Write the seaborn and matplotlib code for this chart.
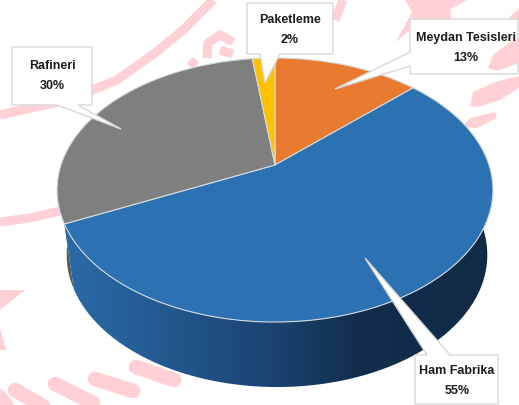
import numpy as np
import seaborn as sns
import matplotlib
matplotlib.use('Agg')
import matplotlib.pyplot as plt
from matplotlib.colors import LinearSegmentedColormap
from matplotlib.patches import Polygon
from matplotlib.transforms import Transform

categories = ['Meydan Tesisleri', 'Ham Fabrika', 'Rafineri', 'Paketleme']
shares = [13, 55, 30, 2]
top_colors = ['#e97b30', '#2c72b2', '#7f7f7f', '#ffc000']

# pie placement in image pixels, the far side is squeezed like the 3d original
CX, CY = 275, 165
A, B, K = 214, 127.3, 0.1894
DEPTH = 65
BOTTOM_SCALE = 0.965
BOTTOM_SHIFT = 2

# callouts as outlines in pixels, pointer included
callouts = {
    'Meydan Tesisleri': [(410, 19), (518, 19), (518, 74), (410, 74), (410, 66), (335, 89), (410, 52)],
    'Ham Fabrika': [(415, 355), (427, 355), (365, 258), (450, 355), (498, 355), (498, 404), (415, 404)],
    'Rafineri': [(12, 47), (92, 47), (92, 105), (78, 105), (121, 129), (57, 105), (12, 105)],
    'Paketleme': [(247, 3), (333, 3), (333, 54), (280, 54), (265, 83), (260, 54), (247, 54)],
}
text_pos = {
    'Meydan Tesisleri': (466, 48),
    'Ham Fabrika': (457, 381),
    'Rafineri': (52, 76),
    'Paketleme': (290, 30),
}

# faint watermark behind the chart
wm_thin = [
    [(0, 115), (67, 100), (117, 80), (155, 53), (183, 30), (213, 0)],
    [(0, 222), (30, 218), (60, 211)],
    [(335, 20), (343, 0)],
    [(207, 58), (208, 43), (220, 35), (233, 42)],
    [(220, 50), (233, 54)],
    [(190, 60), (196, 66)],
]
wm_dashes = [
    [(136, 367), (174, 380)],
    [(95, 379), (133, 391)],
    [(55, 384), (93, 403)],
    [(15, 390), (50, 410)],
    [(-2, 395), (10, 410)],
]
wm_shapes = [
    [(0, 290), (25, 290), (0, 310)],
    [(0, 328), (6, 350), (0, 350)],
    [(405, 0), (467, 0), (450, 9), (452, 22), (412, 22), (410, 30), (396, 42), (412, 12)],
    [(470, 106), (473, 92), (495, 82), (519, 76), (519, 88), (500, 100), (478, 107)],
    [(462, 127), (470, 118), (495, 112), (497, 118), (477, 128)],
    [(508, 19), (519, 8), (519, 19)],
]
wm_over_box = [(488, 68), (493, 55), (510, 42), (519, 39), (519, 63), (497, 71)]


class TiltTransform(Transform):
    input_dims = 2
    output_dims = 2

    def transform_non_affine(self, values):
        values = np.asarray(values, dtype=float)
        den = 1 + K * values[:, 1]
        return np.column_stack((CX + A * values[:, 0] / den, CY - B * values[:, 1] / den))


def rim(start, end, scale=1.0, shift=0, drop=0):
    # start and end are clockwise from 12 o'clock, in percent
    theta = np.radians(np.linspace(start, end, 120) * 3.6)
    u, v = np.sin(theta), np.cos(theta)
    den = 1 + K * v
    return np.column_stack((CX + shift + scale * A * u / den, CY - B * v / den + drop))


def side_shape(start, end):
    top = rim(start, end)
    bottom = rim(start, end, BOTTOM_SCALE, BOTTOM_SHIFT, DEPTH)
    return np.vstack((top, bottom[::-1]))


sns.set_theme(style='white')
plt.rcParams['font.family'] = ['Liberation Sans', 'DejaVu Sans']

fig = plt.figure(figsize=(5.19, 4.05), dpi=100)
ax = fig.add_axes([0, 0, 1, 1])

wedges, _ = ax.pie(shares, colors=sns.color_palette(top_colors), startangle=90, counterclock=False,
                   wedgeprops={'linewidth': 0.8, 'edgecolor': '#d4dbe2', 'zorder': 5})
tilt = TiltTransform()
for wedge in wedges:
    wedge.set_transform(tilt + ax.transData)

pink = '#ffd0d6'
for line in wm_thin:
    pts = np.array(line)
    ax.plot(pts[:, 0], pts[:, 1], color=pink, lw=6.5, solid_capstyle='butt', zorder=1)
for line in wm_dashes:
    pts = np.array(line)
    ax.plot(pts[:, 0], pts[:, 1], color=pink, lw=10.5, solid_capstyle='round', zorder=1)
for shape in wm_shapes:
    ax.add_patch(Polygon(shape, closed=True, facecolor=pink, edgecolor='none', zorder=1))

# outer wall, only the ham fabrika and rafineri parts can be seen
ham_start = shares[0]
ham_end = ham_start + shares[1]
raf_end = ham_end + shares[2]

ax.add_patch(Polygon(side_shape(ham_end, raf_end), closed=True, facecolor='#5a5a5a', edgecolor='none', zorder=2))

wall_cmap = LinearSegmentedColormap.from_list('wall', [
    (0.0, '#2a6ba8'), (0.2, '#245c93'), (0.5, '#1a4270'), (0.68, '#122e4c'), (1.0, '#0f2a44')])
im = ax.imshow(np.linspace(0, 1, 256).reshape(1, -1), cmap=wall_cmap, extent=(62, 494, 400, 80),
               aspect='auto', zorder=3)
clip = Polygon(side_shape(ham_start, ham_end), closed=True, transform=ax.transData)
im.set_clip_path(clip)

for name, share in zip(categories, shares):
    ax.add_patch(Polygon(callouts[name], closed=True, facecolor='white', edgecolor='#d8d8d8', lw=1, zorder=6))
    x, y = text_pos[name]
    ax.text(x, y, '{}\n{}%'.format(name, share), ha='center', va='center', fontsize=9, fontweight='bold',
            color='#1c1c1c', linespacing=1.85, zorder=8)
# this piece shows through the meydan tesisleri box
ax.add_patch(Polygon(wm_over_box, closed=True, facecolor=pink, edgecolor='none', zorder=7))

ax.set(xlim=(0, 519), ylim=(405, 0), aspect='auto')
ax.axis('off')
fig.savefig('out.png', dpi=100, facecolor='white')
